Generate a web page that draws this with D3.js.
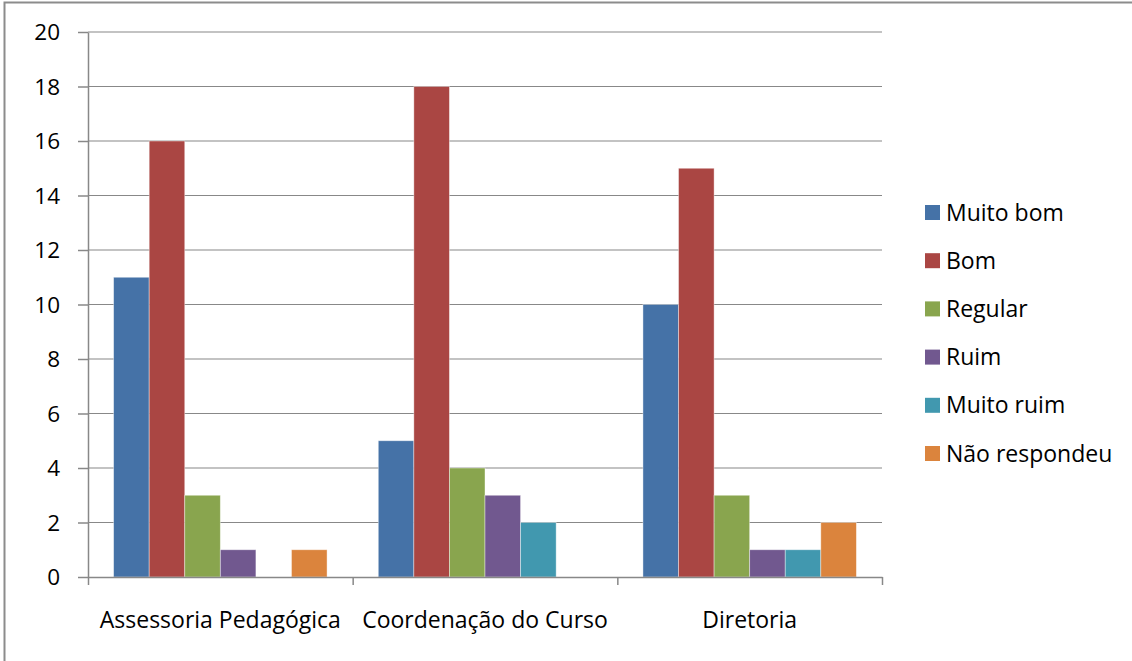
<!DOCTYPE html>
<html>
<head>
<meta charset="utf-8">
<script src="https://cdn.jsdelivr.net/npm/d3@7"></script>
<style>
body{margin:0;background:#fff;}
text{font-family:"Open Sans",sans-serif;fill:#000;}
</style>
</head>
<body>
<svg id="chart" width="1132" height="661"></svg>
<script>
var categories=["Assessoria Pedagógica","Coordenação do Curso","Diretoria"];
var series=["Muito bom","Bom","Regular","Ruim","Muito ruim","Não respondeu"];
var colors=["#4572A7","#AA4643","#89A54E","#71588F","#4198AF","#DB843D"];
var muitoBom=[11,5,10];
var bom=[16,18,15];
var regular=[3,4,3];
var ruim=[1,3,1];
var muitoRuim=[0,2,1];
var naoRespondeu=[1,0,2];
var yTicks=[0,2,4,6,8,10,12,14,16,18,20];

var values=[muitoBom,bom,regular,ruim,muitoRuim,naoRespondeu];

(function(){
var svg=d3.select("#chart");
var plotL=88, plotR=882, plotT=32, plotB=577;

// chart border
svg.append("rect").attr("x",4.5).attr("y",2.5).attr("width",1140).attr("height",700)
  .attr("fill","none").attr("stroke","#8c8c8c").attr("stroke-width",2);

var x0=d3.scaleBand().domain(categories).range([plotL,plotR]).paddingInner(0).paddingOuter(0);
var x1=d3.scaleBand().domain(series).range([0,x0.bandwidth()]).paddingOuter(0.72);
var y=d3.scaleLinear().domain([0,20]).range([plotB,plotT]);

// gridlines
svg.append("g").selectAll("line").data(yTicks.filter(function(d){return d>0}))
  .enter().append("line")
  .attr("x1",plotL).attr("x2",plotR)
  .attr("y1",function(d){return y(d)}).attr("y2",function(d){return y(d)})
  .attr("stroke","#888").attr("stroke-width",1.2);

// bars
var rows=[];
categories.forEach(function(c,i){
  series.forEach(function(s,j){ rows.push({cat:c,ser:s,val:values[j][i],col:colors[j]}); });
});
svg.append("g").selectAll("rect").data(rows.filter(function(d){return d.val>0})).enter().append("rect")
  .attr("x",function(d){return x0(d.cat)+x1(d.ser)})
  .attr("y",function(d){return y(d.val)})
  .attr("width",x1.bandwidth())
  .attr("height",function(d){return plotB-y(d.val)})
  .attr("fill",function(d){return d.col})
  .attr("stroke","rgba(255,255,255,0.5)").attr("stroke-width",0.8);

// y axis
var yAxis=d3.axisLeft(y).tickValues(yTicks).tickSize(10).tickPadding(18).tickSizeOuter(0);
var gy=svg.append("g").attr("transform","translate("+plotL+",0)").call(yAxis);
gy.selectAll("text").style("font-size","22.5px").attr("dy","0.34em");

// x axis
var xAxis=d3.axisBottom(d3.scaleLinear().domain([0,3]).range([plotL,plotR]))
  .tickValues([0,1,2,3]).tickSize(8).tickSizeOuter(0).tickFormat("");
svg.append("g").attr("transform","translate(0,"+plotB+")").call(xAxis);

svg.selectAll(".domain,.tick line").attr("stroke","#888").attr("stroke-width",1.5);

svg.append("g").selectAll("text").data(categories).enter().append("text")
  .attr("x",function(d){return x0(d)+x0.bandwidth()/2})
  .attr("y",628).attr("text-anchor","middle").style("font-size","23px")
  .text(function(d){return d});

// legend
var lg=svg.append("g").selectAll("g").data(series).enter().append("g")
  .attr("transform",function(d,i){return "translate(925,"+(212.5+i*48.2)+")"});
lg.append("rect").attr("x",0).attr("y",-7.5).attr("width",15).attr("height",15)
  .attr("fill",function(d,i){return colors[i]});
lg.append("text").attr("x",21).attr("y",8).style("font-size","23px").text(function(d){return d});
})();
</script>
</body>
</html>
